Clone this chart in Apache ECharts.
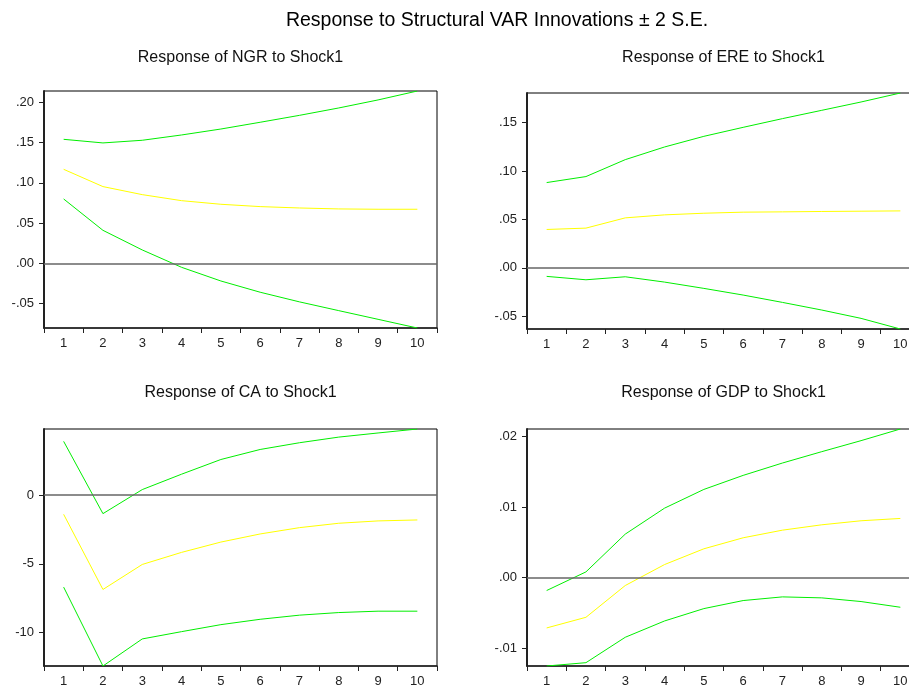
<!DOCTYPE html>
<html>
<head>
<meta charset="utf-8">
<script src="https://cdn.jsdelivr.net/npm/echarts@6/dist/echarts.min.js"></script>
<style>
  html, body { margin: 0; padding: 0; background: #fff; }
  #chart { width: 909px; height: 685px; }
</style>
</head>
<body>
<div id="chart"></div>
<script>
// periods after the shock
const periods = ['1', '2', '3', '4', '5', '6', '7', '8', '9', '10'];

// NGR
const ngrUpper = [0.1542, 0.1497, 0.1530, 0.1596, 0.1670, 0.1754, 0.1840, 0.1932, 0.2032, 0.2143];
const ngrResp  = [0.1169, 0.0954, 0.0854, 0.0779, 0.0734, 0.0705, 0.0688, 0.0676, 0.0672, 0.0672];
const ngrLower = [0.0800, 0.0410, 0.0166, -0.0050, -0.0220, -0.0360, -0.0480, -0.0589, -0.0697, -0.0805];
const ngrTicks = [-0.05, 0, 0.05, 0.10, 0.15, 0.20];

// ERE
const ereUpper = [0.0881, 0.0943, 0.1118, 0.1249, 0.1359, 0.1452, 0.1542, 0.1628, 0.1714, 0.1807];
const ereResp  = [0.0396, 0.0410, 0.0516, 0.0547, 0.0564, 0.0575, 0.0578, 0.0582, 0.0585, 0.0588];
const ereLower = [-0.0089, -0.0124, -0.0093, -0.0148, -0.0213, -0.0282, -0.0358, -0.0437, -0.0523, -0.0633];
const ereTicks = [-0.05, 0, 0.05, 0.10, 0.15];

// CA
const caUpper = [3.92, -1.34, 0.41, 1.53, 2.60, 3.33, 3.82, 4.23, 4.53, 4.82];
const caResp  = [-1.39, -6.86, -5.04, -4.16, -3.41, -2.82, -2.36, -2.04, -1.87, -1.80];
const caLower = [-6.69, -12.43, -10.46, -9.93, -9.42, -9.03, -8.73, -8.54, -8.44, -8.44];
const caTicks = [-10, -5, 0];

// GDP
const gdpUpper = [-0.00184, 0.0008, 0.00615, 0.00983, 0.01248, 0.01447, 0.01622, 0.01783, 0.01939, 0.02104];
const gdpResp  = [-0.00714, -0.00563, -0.00113, 0.00184, 0.00407, 0.00563, 0.00671, 0.00747, 0.00804, 0.00837];
const gdpLower = [-0.01253, -0.01206, -0.00846, -0.00615, -0.0044, -0.00326, -0.00274, -0.00288, -0.0034, -0.00421];
const gdpTicks = [-0.01, 0, 0.01, 0.02];

const FONT = '"Liberation Sans", Arial, sans-serif';
const GREEN = '#00ee00';
const YELLOW = '#ffff00';

const panels = [
  { title: 'Response of NGR to Shock1', titleY: 58, grid: { left: 44, top: 91, width: 393, height: 237 },
    min: -0.0805, max: 0.2143, ticks: ngrTicks, dec: true, data: [ngrUpper, ngrResp, ngrLower] },
  { title: 'Response of ERE to Shock1', titleY: 58, grid: { left: 527, top: 93, width: 393, height: 236 },
    min: -0.0633, max: 0.1807, ticks: ereTicks, dec: true, data: [ereUpper, ereResp, ereLower] },
  { title: 'Response of CA to Shock1', titleY: 393, grid: { left: 44, top: 429, width: 393, height: 237 },
    min: -12.43, max: 4.82, ticks: caTicks, dec: false, data: [caUpper, caResp, caLower] },
  { title: 'Response of GDP to Shock1', titleY: 393, grid: { left: 527, top: 429, width: 393, height: 237 },
    min: -0.01253, max: 0.02104, ticks: gdpTicks, dec: true, data: [gdpUpper, gdpResp, gdpLower] }
];

function fmt(p) {
  return function (v) {
    if (!p.dec) return String(Math.round(v));
    return v.toFixed(2).replace('-0.', '-.').replace(/^0\./, '.');
  };
}

const grids = [], xAxes = [], yAxes = [], series = [], graphics = [];

graphics.push({
  type: 'text', x: 497, y: 21,
  style: { text: 'Response to Structural VAR Innovations \u00b1 2 S.E.', textAlign: 'center',
           textVerticalAlign: 'middle', fontSize: 19.5, fontFamily: FONT, fill: '#000' }
});

panels.forEach(function (p, i) {
  grids.push(Object.assign({ show: true, borderColor: '#000', borderWidth: 1,
    backgroundColor: 'transparent', containLabel: false, outerBoundsMode: 'none' }, p.grid));
  graphics.push({
    type: 'text', x: p.grid.left + p.grid.width / 2, y: p.titleY,
    style: { text: p.title, textAlign: 'center', textVerticalAlign: 'middle',
             fontSize: 16, fontFamily: FONT, fill: '#111' }
  });
  xAxes.push({
    type: 'category', gridIndex: i, data: periods, boundaryGap: true,
    axisLine: { onZero: false, lineStyle: { color: '#222', width: 1.5 } },
    axisTick: { show: true, length: 5, alignWithLabel: false, lineStyle: { color: '#222' } },
    axisLabel: { color: '#222', fontSize: 13, fontFamily: FONT, margin: 9, interval: 0 },
    splitLine: { show: false }
  });
  yAxes.push({
    type: 'value', gridIndex: i, min: p.min, max: p.max,
    axisLine: { show: true, onZero: false, lineStyle: { color: '#222', width: 2 } },
    axisTick: { show: true, length: 5, customValues: p.ticks, lineStyle: { color: '#222' } },
    axisLabel: { color: '#222', fontSize: 13, fontFamily: FONT, margin: 10,
                 customValues: p.ticks, formatter: fmt(p) },
    splitLine: { show: false }
  });
  const cols = [GREEN, YELLOW, GREEN];
  p.data.forEach(function (d, j) {
    const s = {
      type: 'line', xAxisIndex: i, yAxisIndex: i, data: d,
      symbol: 'none', smooth: false, lineStyle: { color: cols[j], width: 1 }
    };
    if (j === 0) {
      s.markLine = {
        silent: true, symbol: 'none', label: { show: false },
        lineStyle: { color: '#666', width: 1.5, type: 'solid' },
        data: [{ yAxis: 0 }]
      };
    }
    series.push(s);
  });
});

const chart = echarts.init(document.getElementById('chart'));
chart.setOption({
  animation: false,
  backgroundColor: '#fff',
  grid: grids,
  xAxis: xAxes,
  yAxis: yAxes,
  series: series,
  graphic: graphics
});
</script>
</body>
</html>
